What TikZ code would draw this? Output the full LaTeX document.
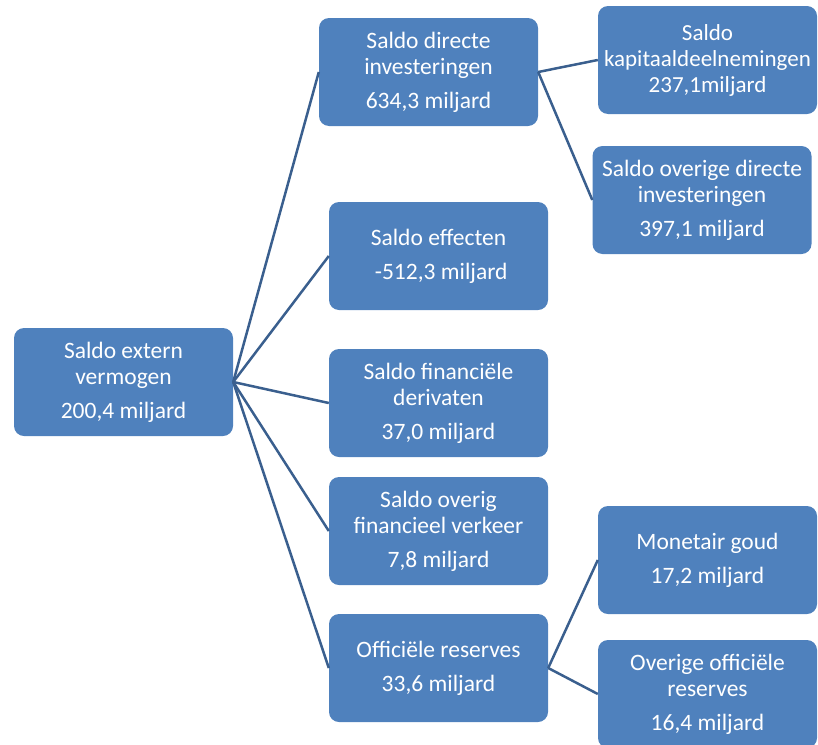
\documentclass[tikz,border=0pt]{standalone}
\usepackage{fontspec}
\setmainfont{Carlito}
\usepackage{xcolor}
\definecolor{BoxBlue}{HTML}{4F81BD}
\definecolor{LinkBlue}{HTML}{3A5F8E}

\begin{document}
\begin{tikzpicture}[x=1pt,y=-1pt,
    box/.style={fill=BoxBlue,rounded corners=10pt,minimum width=219pt,
        minimum height=108pt,align=center,text=white,inner sep=1pt,
        font=\fontsize{23.5}{26}\selectfont},
    link/.style={draw=LinkBlue,line width=2.5pt}]
    \useasboundingbox (0,0) rectangle (818,744);

    \node[box] (saldo) at (123.5,382) {Saldo extern\\vermogen\\[8pt]200,4 miljard};

    \node[box] (direct) at (428.5,72) {Saldo directe\\investeringen\\[8pt]634,3 miljard};
    \node[box] (effecten) at (438.5,256) {Saldo effecten\\[8pt]\ -512,3 miljard};
    \node[box] (derivaten) at (438.5,403) {Saldo financiële\\derivaten\\[8pt]37,0 miljard};
    \node[box] (overig) at (438.5,531) {Saldo overig\\financieel verkeer\\[8pt]7,8 miljard};
    \node[box] (reserves) at (438.5,668) {Officiële reserves\\[8pt]33,6 miljard};

    \node[box,font=\fontsize{23}{26}\selectfont] (kapitaal) at (707.5,60)
        {Saldo\\kapitaaldeelnemingen\\237,1miljard};
    \node[box] (overdirect) at (702,200) {Saldo overige directe\\investeringen\\[8pt]397,1 miljard};
    \node[box] (goud) at (707.5,560) {Monetair goud\\[8pt]17,2 miljard};
    \node[box] (overreserves) at (707.5,694) {Overige officiële\\reserves\\[8pt]16,4 miljard};

    \foreach \kind in {direct,effecten,derivaten,overig,reserves}
        \draw[link] (saldo.east) -- (\kind.west);
    \draw[link] (direct.east) -- (kapitaal.west);
    \draw[link] (direct.east) -- (overdirect.west);
    \draw[link] (reserves.east) -- (goud.west);
    \draw[link] (reserves.east) -- (overreserves.west);
\end{tikzpicture}
\end{document}
